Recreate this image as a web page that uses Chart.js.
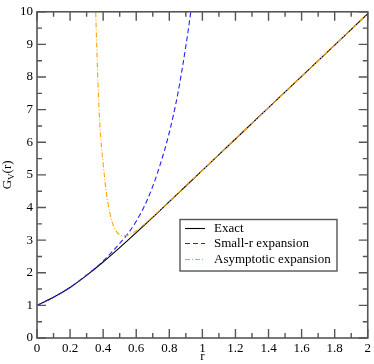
<!DOCTYPE html>
<html>
<head>
<meta charset="utf-8">
<script src="https://cdn.jsdelivr.net/npm/chart.js@4.4.1/dist/chart.umd.min.js"></script>
<style>
  body { margin: 0; background: #fff; }
  #wrap { width: 374px; height: 364px; }
</style>
</head>
<body>
<div id="wrap"><canvas id="myChart" width="374" height="364"></canvas></div>
<script>
// values
var exactR = [0, 0.1, 0.2, 0.3, 0.4, 0.5, 0.6, 0.7, 0.8, 0.9, 1.0, 1.2, 1.4, 1.6, 1.8, 2.0];
var exactG = [1.00, 1.25, 1.55, 1.92, 2.33, 2.77, 3.23, 3.70, 4.18, 4.66, 5.14, 6.10, 7.06, 8.02, 8.98, 9.94];

var smallR = [0, 0.1, 0.2, 0.3, 0.4, 0.5, 0.55, 0.6, 0.65, 0.7, 0.75, 0.8, 0.85, 0.9, 0.93, 0.95];
var smallG = [1.00, 1.25, 1.55, 1.93, 2.36, 2.90, 3.20, 3.58, 4.05, 4.65, 5.40, 6.30, 7.45, 8.95, 10.0, 10.8];

var asymR = [0.35, 0.355, 0.36, 0.37, 0.38, 0.39, 0.40, 0.41, 0.42, 0.43, 0.44, 0.45, 0.46, 0.48, 0.50, 0.52, 0.54, 0.56, 0.58, 0.60, 0.65, 0.70, 0.8, 0.9, 1.0, 1.2, 1.4, 1.6, 1.8, 2.0];
var asymG = [10.9, 10.0, 9.15, 7.65, 6.55, 5.85, 5.35, 4.85, 4.42, 4.10, 3.84, 3.63, 3.47, 3.27, 3.16, 3.13, 3.14, 3.17, 3.22, 3.29, 3.49, 3.72, 4.19, 4.67, 5.14, 6.10, 7.06, 8.02, 8.98, 9.94];

var seriesNames = ["Exact", "Small-r expansion", "Asymptotic expansion"];
var xTicks = [0, 0.2, 0.4, 0.6, 0.8, 1, 1.2, 1.4, 1.6, 1.8, 2];
var xTickLabels = ["0", "0.2", "0.4", "0.6", "0.8", "1", "1.2", "1.4", "1.6", "1.8", "2"];
var yTicks = [0, 1, 2, 3, 4, 5, 6, 7, 8, 9, 10];
var yTickLabels = ["0", "1", "2", "3", "4", "5", "6", "7", "8", "9", "10"];

var serif = "'Liberation Serif', 'DejaVu Serif', serif";

function toPoints(xs, ys) {
    var pts = [];
    for (var i = 0; i < xs.length; i++) pts.push({x: xs[i], y: ys[i]});
    return pts;
}

function labelFor(list, labels, v) {
    for (var i = 0; i < list.length; i++) {
        if (Math.abs(list[i] - v) < 1e-6) return labels[i];
    }
    return "";
}

// frame + inward ticks on all four sides, y title, legend box
var framePlugin = {
    id: "frame",
    afterDraw: function(chart) {
        var ctx = chart.ctx;
        var a = chart.chartArea;
        var xs = chart.scales.x, ys = chart.scales.y;
        ctx.save();
        ctx.strokeStyle = "#555";
        ctx.lineWidth = 1.6;
        ctx.strokeRect(a.left, a.top, a.right - a.left, a.bottom - a.top);

        ctx.lineWidth = 1.4;
        ctx.beginPath();
        var v, p;
        for (v = 0; v <= 20; v++) {
            p = xs.getPixelForValue(v * 0.1);
            var len = (v % 2 === 0) ? 9 : 5;
            ctx.moveTo(p, a.bottom); ctx.lineTo(p, a.bottom - len);
            ctx.moveTo(p, a.top); ctx.lineTo(p, a.top + len);
        }
        for (v = 0; v <= 20; v++) {
            p = ys.getPixelForValue(v * 0.5);
            var len2 = (v % 2 === 0) ? 9 : 5;
            ctx.moveTo(a.left, p); ctx.lineTo(a.left + len2, p);
            ctx.moveTo(a.right, p); ctx.lineTo(a.right - len2, p);
        }
        ctx.stroke();

        // y axis title G_V(r)
        ctx.fillStyle = "#000";
        ctx.translate(11, (a.top + a.bottom) / 2);
        ctx.rotate(-Math.PI / 2);
        ctx.textBaseline = "alphabetic";
        ctx.font = "13px " + serif;
        var wG = ctx.measureText("G").width;
        var wR = ctx.measureText("(r)").width;
        ctx.font = "9px " + serif;
        var wV = ctx.measureText("V").width;
        var x0 = -(wG + wV + wR) / 2;
        ctx.font = "13px " + serif;
        ctx.fillText("G", x0, 0);
        ctx.font = "9px " + serif;
        ctx.fillText("V", x0 + wG, 3);
        ctx.font = "13px " + serif;
        ctx.fillText("(r)", x0 + wG + wV, 0);
        ctx.restore();

        // legend
        ctx.save();
        var bx = 180, by = 219.5, bw = 157, bh = 51.5;
        ctx.fillStyle = "#fff";
        ctx.fillRect(bx, by, bw, bh);
        ctx.strokeStyle = "#555";
        ctx.lineWidth = 1.4;
        ctx.strokeRect(bx, by, bw, bh);
        ctx.font = "13px " + serif;
        ctx.textBaseline = "middle";
        var rows = [228.5, 243.5, 259.5];
        chart.data.datasets.forEach(function(ds, i) {
            ctx.strokeStyle = ds.borderColor;
            ctx.lineWidth = ds.borderWidth;
            ctx.setLineDash(ds.borderDash || []);
            ctx.beginPath();
            ctx.moveTo(185, rows[i]);
            ctx.lineTo(205, rows[i]);
            ctx.stroke();
            ctx.setLineDash([]);
            ctx.fillStyle = "#000";
            ctx.fillText(ds.label, 214, rows[i]);
        });
        ctx.restore();
    }
};

var ctx = document.getElementById("myChart").getContext("2d");
var myChart = new Chart(ctx, {
    type: "line",
    data: {
        datasets: [
            {
                label: seriesNames[0],
                data: toPoints(exactR, exactG),
                borderColor: "#000000",
                borderWidth: 1.1,
                pointRadius: 0,
                cubicInterpolationMode: "monotone",
                order: 3
            },
            {
                label: seriesNames[1],
                data: toPoints(smallR, smallG),
                borderColor: "#2222ff",
                borderWidth: 1.1,
                borderDash: [5, 3],
                pointRadius: 0,
                cubicInterpolationMode: "monotone",
                order: 2
            },
            {
                label: seriesNames[2],
                data: toPoints(asymR, asymG),
                borderColor: "#ffa500",
                borderWidth: 1.1,
                borderDash: [5, 2, 1, 2],
                pointRadius: 0,
                cubicInterpolationMode: "monotone",
                order: 1
            }
        ]
    },
    options: {
        responsive: false,
        animation: false,
        layout: { padding: { top: 5, right: 4, left: 0, bottom: 0 } },
        plugins: {
            legend: { display: false },
            tooltip: { enabled: false }
        },
        scales: {
            x: {
                type: "linear",
                min: 0,
                max: 2,
                afterBuildTicks: function(scale) {
                    scale.ticks = xTicks.map(function(v) { return {value: v}; });
                },
                afterFit: function(scale) { scale.height = 26; },
                grid: { display: false, drawTicks: false },
                border: { display: false },
                ticks: {
                    padding: 3,
                    maxRotation: 0,
                    autoSkip: false,
                    color: "#000",
                    font: { family: serif, size: 13 },
                    callback: function(v) { return labelFor(xTicks, xTickLabels, v); }
                },
                title: {
                    display: true,
                    text: "r",
                    color: "#000",
                    font: { family: serif, size: 13 },
                    padding: { top: 0, bottom: 0 }
                }
            },
            y: {
                type: "linear",
                min: 0,
                max: 10,
                afterBuildTicks: function(scale) {
                    scale.ticks = yTicks.map(function(v) { return {value: v}; });
                },
                afterFit: function(scale) { scale.width = 37; },
                grid: { display: false, drawTicks: false },
                border: { display: false },
                ticks: {
                    padding: 4,
                    autoSkip: false,
                    color: "#000",
                    font: { family: serif, size: 13 },
                    callback: function(v) { return labelFor(yTicks, yTickLabels, v); }
                }
            }
        }
    },
    plugins: [framePlugin]
});
</script>
</body>
</html>
